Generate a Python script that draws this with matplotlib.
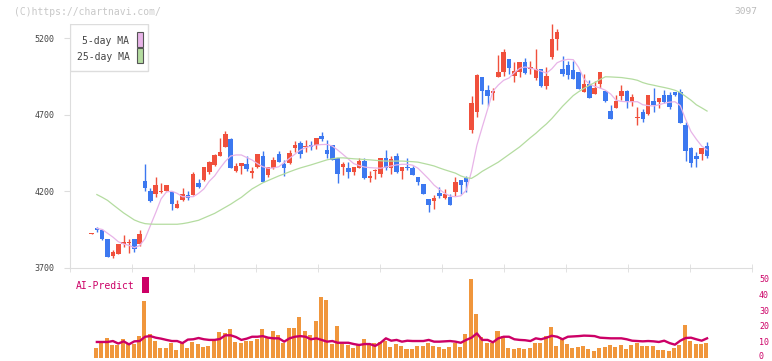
import numpy as np
import matplotlib.pyplot as plt
from matplotlib.patches import Rectangle
from matplotlib.transforms import ScaledTranslation

# OHLC per trading day (first one is the marker dash at the left end)
opens = [3923, 3957, 3946, 3888, 3778, 3792, 3855, 3860, 3888, 3855,
         4267, 4201, 4180, 4198, 4199, 4197, 4092, 4144, 4175, 4177,
         4254, 4275, 4327, 4371, 4432, 4491, 4541, 4334, 4367, 4376,
         4321, 4358, 4432, 4306, 4350, 4443, 4380, 4384, 4484, 4515,
         4487, 4502, 4502, 4561, 4469, 4502, 4415, 4356, 4354, 4327,
         4354, 4397, 4288, 4332, 4314, 4417, 4350, 4430, 4332, 4360,
         4352, 4293, 4247, 4149, 4136, 4188, 4156, 4164, 4197, 4273,
         4288, 4600, 4720, 4946, 4861, 4844, 4946, 4981, 5064, 4953,
         4981, 5044, 4996, 4942, 4999, 4890, 5079, 5195, 4999, 5025,
         4992, 4979, 4850, 4901, 4833, 4901, 4855, 4724, 4746, 4822,
         4855, 4785, 4677, 4718, 4705, 4790, 4785, 4829, 4829, 4848,
         4848, 4633, 4484, 4430, 4443, 4495]
highs = [3927, 3966, 3950, 3888, 3816, 3855, 3914, 3888, 3888, 3946,
         4376, 4223, 4293, 4252, 4240, 4201, 4142, 4223, 4201, 4325,
         4280, 4358, 4400, 4444, 4546, 4594, 4546, 4382, 4382, 4430,
         4358, 4443, 4463, 4358, 4424, 4463, 4402, 4467, 4528, 4528,
         4535, 4530, 4546, 4589, 4535, 4502, 4419, 4389, 4393, 4360,
         4419, 4415, 4332, 4345, 4417, 4469, 4430, 4447, 4360, 4415,
         4365, 4293, 4247, 4149, 4175, 4229, 4212, 4182, 4293, 4273,
         4299, 4822, 4966, 4946, 4894, 4872, 5091, 5129, 5064, 5044,
         5044, 5070, 5051, 5129, 4999, 5010, 5290, 5260, 5084, 5051,
         5051, 4979, 4966, 4927, 4920, 4979, 4855, 4761, 4829, 4894,
         4861, 4835, 4750, 4737, 4829, 4875, 4809, 4861, 4848, 4848,
         4870, 4652, 4491, 4454, 4482, 4522]
lows = [3923, 3935, 3880, 3772, 3765, 3792, 3837, 3798, 3805, 3844,
        4203, 4127, 4160, 4186, 4199, 4079, 4088, 4136, 4144, 4175,
        4219, 4265, 4314, 4364, 4430, 4487, 4354, 4325, 4310, 4332,
        4284, 4354, 4258, 4291, 4345, 4393, 4301, 4380, 4458, 4415,
        4458, 4469, 4476, 4528, 4415, 4406, 4252, 4306, 4288, 4306,
        4350, 4280, 4262, 4280, 4293, 4339, 4314, 4319, 4280, 4341,
        4306, 4240, 4182, 4062, 4084, 4153, 4149, 4112, 4169, 4182,
        4197, 4578, 4683, 4770, 4757, 4796, 4946, 4953, 4966, 4916,
        4948, 4966, 4966, 4927, 4883, 4868, 5062, 5123, 4953, 4933,
        4935, 4870, 4850, 4811, 4833, 4872, 4785, 4672, 4746, 4796,
        4746, 4757, 4633, 4654, 4698, 4720, 4744, 4775, 4737, 4822,
        4646, 4400, 4360, 4360, 4406, 4417]
closes = [3927, 3944, 3888, 3772, 3803, 3855, 3866, 3865, 3822, 3920,
          4223, 4138, 4240, 4203, 4240, 4114, 4118, 4182, 4158, 4312,
          4227, 4358, 4389, 4437, 4454, 4574, 4354, 4363, 4382, 4345,
          4332, 4443, 4258, 4358, 4406, 4393, 4354, 4450, 4502, 4441,
          4495, 4489, 4546, 4541, 4441, 4406, 4314, 4378, 4327, 4360,
          4397, 4284, 4299, 4336, 4417, 4350, 4410, 4327, 4360, 4350,
          4306, 4258, 4182, 4110, 4156, 4171, 4182, 4112, 4260, 4243,
          4262, 4775, 4959, 4857, 4822, 4855, 4979, 5110, 5007, 4986,
          5044, 4975, 5014, 4999, 4888, 4953, 5195, 5240, 4966, 4962,
          4935, 4870, 4901, 4811, 4877, 4979, 4792, 4672, 4790, 4855,
          4785, 4816, 4682, 4672, 4829, 4763, 4809, 4785, 4750, 4829,
          4646, 4465, 4386, 4412, 4482, 4430]

# moving averages (no value for the first day)
ma5 = [np.nan, 3957, 3950, 3925, 3900, 3870, 3855, 3846, 3831, 3845,
       3890, 3975, 4060, 4150, 4195, 4200, 4186, 4164, 4164, 4164,
       4186, 4215, 4265, 4300, 4350, 4395, 4430, 4437, 4437, 4420,
       4404, 4380, 4360, 4350, 4352, 4360, 4388, 4415, 4442, 4469,
       4485, 4495, 4502, 4505, 4506, 4495, 4469, 4440, 4410, 4380,
       4368, 4358, 4354, 4352, 4350, 4358, 4365, 4372, 4376, 4376,
       4370, 4350, 4315, 4280, 4240, 4212, 4186, 4168, 4164, 4170,
       4205, 4330, 4500, 4619, 4735, 4854, 4894, 4925, 4940, 4975,
       5003, 5012, 5005, 4995, 4985, 4972, 5000, 5040, 5055, 5062,
       5060, 5010, 4935, 4900, 4885, 4875, 4860, 4835, 4795, 4787,
       4785, 4785, 4785, 4765, 4760, 4757, 4765, 4775, 4782, 4785,
       4760, 4670, 4590, 4540, 4495, 4470]
ma25 = [np.nan, 4178, 4160, 4140, 4112, 4085, 4058, 4035, 4012, 3998,
        3988, 3985, 3984, 3984, 3984, 3984, 3984, 3988, 3994, 4002,
        4010, 4025, 4040, 4055, 4075, 4095, 4115, 4138, 4160, 4188,
        4215, 4235, 4255, 4270, 4285, 4300, 4313, 4327, 4340, 4352,
        4362, 4372, 4383, 4394, 4405, 4412, 4418, 4418, 4415, 4412,
        4410, 4407, 4405, 4402, 4399, 4397, 4397, 4397, 4397, 4395,
        4393, 4390, 4382, 4374, 4365, 4352, 4340, 4329, 4318, 4300,
        4288, 4284, 4305, 4330, 4350, 4370, 4390, 4415, 4440, 4465,
        4490, 4520, 4550, 4578, 4610, 4640, 4675, 4715, 4755, 4790,
        4825, 4850, 4872, 4892, 4910, 4930, 4948, 4947, 4945, 4943,
        4938, 4933, 4925, 4910, 4900, 4893, 4885, 4878, 4870, 4860,
        4845, 4820, 4795, 4765, 4745, 4724]

# lower panel: volume bars and AI-Predict line (0-50 scale)
volume = [np.nan, 6.3, 9.4, 12.4, 8, 8, 11.8, 8.6, 8.6, 13.6,
          35.7, 14.9, 10.7, 6.1, 6.1, 9.4, 4.8, 9.4, 6.1, 10.1,
          8.6, 6.7, 7.4, 10.7, 16.2, 15.5, 18.0, 10.1, 9.4, 10.7,
          10.7, 12.0, 18.0, 12.2, 16.9, 14.3, 9.4, 18.7, 18.7, 25.6,
          16.9, 14.3, 23.1, 38.2, 36.3, 8.6, 19.9, 8.6, 8, 6.1,
          8, 11.8, 8.6, 9.4, 10.1, 10.7, 6.7, 8.6, 7.4, 5.5,
          5.5, 7.4, 7.4, 9.4, 7.4, 6.7, 5.5, 6.7, 9.4, 6.7,
          14.9, 49.5, 27.7, 12.8, 9.4, 9.4, 16.9, 13.6, 6.1, 5.5,
          6.1, 5.5, 6.1, 9.4, 9.4, 13.6, 19.3, 7.4, 12.4, 8.6,
          6.1, 6.7, 7.4, 5.5, 4.2, 6.1, 6.7, 8, 6.7, 8,
          5.5, 8, 9.4, 7.4, 7.4, 7.4, 4.8, 4.8, 4.2, 6.1,
          8, 20.5, 10.7, 8.6, 8.6, 9.4]
ai_predict = [np.nan, 9.9, 9.9, 9.9, 10.5, 8.9, 10.3, 8.4, 10.3, 10.5,
              13.2, 13.6, 12.6, 12.0, 11.2, 10.5, 10.5, 9.2, 11.4, 11.6,
              12.4, 11.6, 11.2, 11.2, 11.8, 14.1, 14.1, 13.0, 11.2, 12.0,
              13.2, 13.2, 13.6, 12.6, 12.2, 12.2, 10.1, 12.2, 13.2, 13.6,
              13.2, 11.6, 12.2, 11.2, 10.1, 10.5, 9.4, 9.4, 9.4, 8.6,
              8.0, 8.6, 8.6, 7.4, 9.4, 12.2, 10.7, 11.2, 10.1, 10.7,
              10.5, 10.5, 10.5, 11.2, 10.1, 10.1, 10.3, 10.5, 10.1, 9.4,
              11.2, 12.6, 15.3, 11.2, 11.2, 9.7, 12.2, 13.2, 13.2, 11.6,
              11.2, 11.0, 10.5, 12.2, 11.6, 12.6, 13.8, 13.2, 11.6, 13.2,
              13.4, 13.6, 13.9, 13.8, 13.6, 12.6, 12.4, 12.2, 12.2, 12.2,
              11.6, 10.7, 10.5, 10.3, 10.5, 10.3, 9.9, 10.7, 9.2, 8.2,
              10.7, 12.4, 12.6, 11.6, 10.7, 12.2]

date_pos = [15, 25, 35, 45, 55, 65, 75, 85, 95, 105, 115]
date_labels = ['11/17', '12/2', '12/16', '12/30', '1/19', '2/2',
               '2/17', '3/4', '3/18', '4/2', '4/16']
price_ticks = [3700, 4200, 4700, 5200]
vol_ticks = [0, 10, 20, 30, 40, 50]

RED = '#f0503c'
BLUE = '#3c78f0'
PINK = '#e8b4e8'
GREEN = '#b4dca0'
CRIMSON = '#cc0066'
ORANGE = '#f0963c'
MONO = 'DejaVu Sans Mono'

x = np.arange(len(closes))
o = np.array(opens)
c = np.array(closes)
up = c >= o
xlim = (-4.02, 123.4)

fig = plt.figure(figsize=(7.72, 3.61), dpi=100)
ax = fig.add_axes([70 / 772, 1 - 267.7 / 361, 682 / 772, 243.7 / 361])
axv = fig.add_axes([70 / 772, 1 - 357.7 / 361, 682 / 772, 79.4 / 361])

# candles
colors = np.where(up, RED, BLUE)
ax.vlines(x, lows, highs, colors=colors, linewidth=1.0)
body_bottom = np.minimum(o, c)
body_h = np.maximum(np.abs(c - o), 6)
ax.bar(x, body_h, bottom=body_bottom, width=0.84, color=colors, linewidth=0)

ax.plot(x, ma5, color=PINK, linewidth=0.9)
ax.plot(x, ma25, color=GREEN, linewidth=0.9)

ax.set_xlim(*xlim)
ax.set_ylim(3700, 5293)
for s in ['top', 'right']:
    ax.spines[s].set_visible(False)
ax.spines['left'].set_color('#dddddd')
ax.spines['bottom'].set_color('#dddddd')
ax.set_yticks(price_ticks)
ax.set_yticklabels([str(t) for t in price_ticks], fontfamily=MONO, fontsize=6, color='#444444')
ax.tick_params(axis='y', length=4, color='#dddddd', pad=7)
ax.set_xticks(date_pos)
ax.set_xticklabels(date_labels, fontfamily=MONO, fontsize=5.8, color='#555555')
ax.tick_params(axis='x', which='major', length=0, pad=9)
ax.set_xticks(np.linspace(xlim[0], xlim[1], 12), minor=True)
ax.tick_params(axis='x', which='minor', direction='inout', length=6, color='#dddddd')

# legend box
ax.add_patch(Rectangle((70, 361 - 71.3), 78.3, 47.3, transform=None, facecolor='white',
                       edgecolor='#dddddd', linewidth=1, zorder=5))
fig.text(129.5 / 772, 1 - 40.5 / 361, '5-day MA', ha='right', va='center',
         fontfamily=MONO, fontsize=7, color='#444444', zorder=6)
fig.text(129.5 / 772, 1 - 57 / 361, '25-day MA', ha='right', va='center',
         fontfamily=MONO, fontsize=7, color='#444444', zorder=6)
ax.add_patch(Rectangle((136.5, 361 - 46.5), 6, 15, transform=None, facecolor=PINK,
                       edgecolor='#555555', linewidth=0.8, zorder=6))
ax.add_patch(Rectangle((136.5, 361 - 63.3), 6, 15, transform=None, facecolor=GREEN,
                       edgecolor='#555555', linewidth=0.8, zorder=6))

# lower panel
axv.bar(x - 0.15, volume, width=0.75, color=ORANGE, linewidth=0)
axv.plot(x, ai_predict, color=CRIMSON, linewidth=1.7)
axv.set_xlim(*xlim)
axv.set_ylim(0, 50)
for s in axv.spines.values():
    s.set_visible(False)
axv.set_xticks([])
axv.yaxis.tick_right()
axv.set_yticks(vol_ticks)
axv.set_yticklabels([str(t) for t in vol_ticks], fontfamily=MONO, fontsize=6, color=CRIMSON)
axv.tick_params(axis='y', length=0, pad=5)
# lift the bottom "0" a little so it stays inside the figure
zero_label = axv.get_yticklabels()[0]
zero_label.set_transform(zero_label.get_transform() + ScaledTranslation(0, 2 / 100, fig.dpi_scale_trans))

fig.text(76 / 772, 1 - 286 / 361, 'AI-Predict', ha='left', va='center',
         fontfamily=MONO, fontsize=7, color=CRIMSON)
fig.patches.append(Rectangle((142.3 / 772, 1 - 292.7 / 361), 6.4 / 772, 16 / 361,
                             transform=fig.transFigure, facecolor=CRIMSON, edgecolor='none'))

fig.text(14 / 772, 1 - 12 / 361, '(C)https://chartnavi.com/', ha='left', va='center',
         fontfamily=MONO, fontsize=7, color='#c8c8c8')
fig.text(757 / 772, 1 - 12 / 361, '3097', ha='right', va='center',
         fontfamily=MONO, fontsize=6.8, color='#bbbbbb')

fig.savefig('out.png', dpi=100)
